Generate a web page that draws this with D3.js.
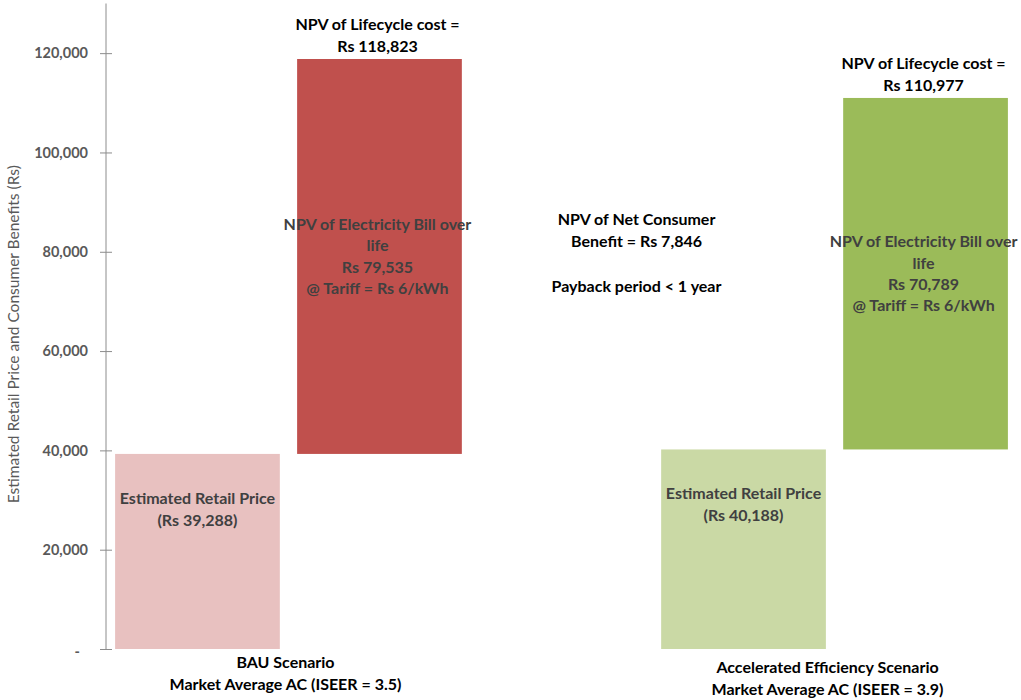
<!DOCTYPE html>
<html>
<head>
<meta charset="utf-8">
<script src="https://cdn.jsdelivr.net/npm/d3@7"></script>
<style>
  html, body { margin: 0; padding: 0; background: #fff; }
  svg { display: block; }
  text { font-family: Lato, "Open Sans", sans-serif; }
</style>
</head>
<body>
<svg id="chart" width="1021" height="700"></svg>
<script>
// Column slots (the middle one is left empty as a spacer between scenarios)
const slots = ["bauRetail", "bauBill", "spacer", "aeRetail", "aeBill"];
// Floating column bases and heights (Rs)
const barBase  = [0, 39288, null, 0, 40188];
const barValue = [39288, 79535, null, 40188, 70789];
const barColor = ["#E8C1C0", "#C0504D", null, "#CAD9A5", "#9BBB59"];

// Axis ticks
const tickValues = [0, 20000, 40000, 60000, 80000, 100000, 120000];
const tickLabels = ["-", "20,000", "40,000", "60,000", "80,000", "100,000", "120,000"];

// Text content
const retailLabels = {
  bauRetail: ["Estimated Retail Price", "(Rs 39,288)"],
  aeRetail: ["Estimated Retail Price", "(Rs 40,188)"]
};
const billLabels = {
  bauBill: ["NPV of Electricity Bill over", "life", "Rs 79,535", "@ Tariff = Rs 6/kWh"],
  aeBill: ["NPV of Electricity Bill over", "life", "Rs 70,789", "@ Tariff = Rs 6/kWh"]
};
const totalLabels = {
  bauBill: ["NPV of Lifecycle cost =", "Rs 118,823"],
  aeBill: ["NPV of Lifecycle cost =", "Rs 110,977"]
};
const scenarioLabels = [
  { slots: ["bauRetail", "bauBill"], lines: ["BAU Scenario", "Market Average AC (ISEER = 3.5)"], dx: -3, y: 662 },
  { slots: ["aeRetail", "aeBill"], lines: ["Accelerated Efficiency Scenario", "Market Average AC (ISEER = 3.9)"], dx: -7, y: 667 }
];
const benefitLines = ["NPV of Net Consumer", "Benefit = Rs 7,846", "", "Payback period < 1 year"];
const yTitle = "Estimated Retail Price and Consumer Benefits (Rs)";

const svg = d3.select("#chart");
const plot = { left: 106, right: 1017, top: 3.5, bottom: 649 };

const x = d3.scaleBand().domain(slots).range([plot.left, plot.right]).paddingInner(0.095).paddingOuter(0.05);
const y = d3.scaleLinear().domain([0, 130000]).range([plot.bottom, plot.top]);

// Bars
const bars = slots.map((s, i) => ({ slot: s, base: barBase[i], value: barValue[i], color: barColor[i] }))
  .filter(d => d.value !== null);

svg.append("g").selectAll("rect").data(bars).join("rect")
  .attr("x", d => x(d.slot))
  .attr("width", x.bandwidth())
  .attr("y", d => y(d.base + d.value))
  .attr("height", d => y(d.base) - y(d.base + d.value))
  .attr("fill", d => d.color);

// Y axis
const yAxis = d3.axisLeft(y)
  .tickValues(tickValues)
  .tickFormat((d, i) => tickLabels[i])
  .tickSize(6)
  .tickPadding(12);
const ax = svg.append("g").attr("transform", `translate(${plot.left},0)`).call(yAxis);
ax.select(".domain").attr("stroke", "#8c8c8c").attr("d", `M0,${plot.top}V${plot.bottom}`);
ax.selectAll(".tick line").attr("stroke", "#8c8c8c").attr("x1", 6).attr("x2", -6);
ax.selectAll(".tick text")
  .attr("fill", "#595959")
  .attr("font-family", "Lato, sans-serif")
  .attr("font-weight", "bold")
  .attr("font-size", 14.5)
  .attr("x", -18);
ax.selectAll(".tick").filter(d => d === 0).select("text").attr("x", -26).attr("dy", "0.55em");

// Y axis title
svg.append("text")
  .attr("transform", `translate(19,${(plot.top + plot.bottom) / 2 + 8}) rotate(-90)`)
  .attr("text-anchor", "middle")
  .attr("fill", "#595959")
  .attr("font-size", 15.5)
  .text(yTitle);

function multiline(g, lines, cx, firstY, lineH, opts) {
  const t = g.append("text")
    .attr("text-anchor", "middle")
    .attr("font-weight", "bold")
    .attr("font-size", opts.size)
    .attr("fill", opts.color);
  lines.forEach((ln, i) => {
    t.append("tspan").attr("x", cx).attr("y", firstY + i * lineH).attr("dy", "0.35em").text(ln);
  });
  return t;
}

const labels = svg.append("g");
const cx = s => x(s) + x.bandwidth() / 2;
const fs = 16;

// Retail price labels, placed just below each column top
Object.entries(retailLabels).forEach(([s, lines]) => {
  const i = slots.indexOf(s);
  multiline(labels, lines, cx(s), y(barValue[i]) + 44, 22, { size: fs, color: "#404040" });
});

// Electricity bill labels, centred in the floating column
Object.entries(billLabels).forEach(([s, lines]) => {
  const i = slots.indexOf(s);
  const mid = (y(barBase[i]) + y(barBase[i] + barValue[i])) / 2;
  const lh = 21.3;
  multiline(labels, lines, cx(s) - 2, mid - lh * (lines.length - 1) / 2, lh, { size: fs, color: "#404040" });
});

// Lifecycle totals above the columns
Object.entries(totalLabels).forEach(([s, lines]) => {
  const i = slots.indexOf(s);
  const top = y(barBase[i] + barValue[i]);
  multiline(labels, lines, cx(s) - 2, top - 35, 22, { size: fs, color: "#000" });
});

// Net benefit annotation
multiline(labels, benefitLines, cx("spacer") + 75, y(86600), 22.5, { size: fs, color: "#000" });

// Scenario category labels
scenarioLabels.forEach(sc => {
  const c = (x(sc.slots[0]) + x(sc.slots[1]) + x.bandwidth()) / 2 + sc.dx;
  multiline(labels, sc.lines, c, sc.y, 22.5, { size: fs, color: "#000" });
});
</script>
</body>
</html>
